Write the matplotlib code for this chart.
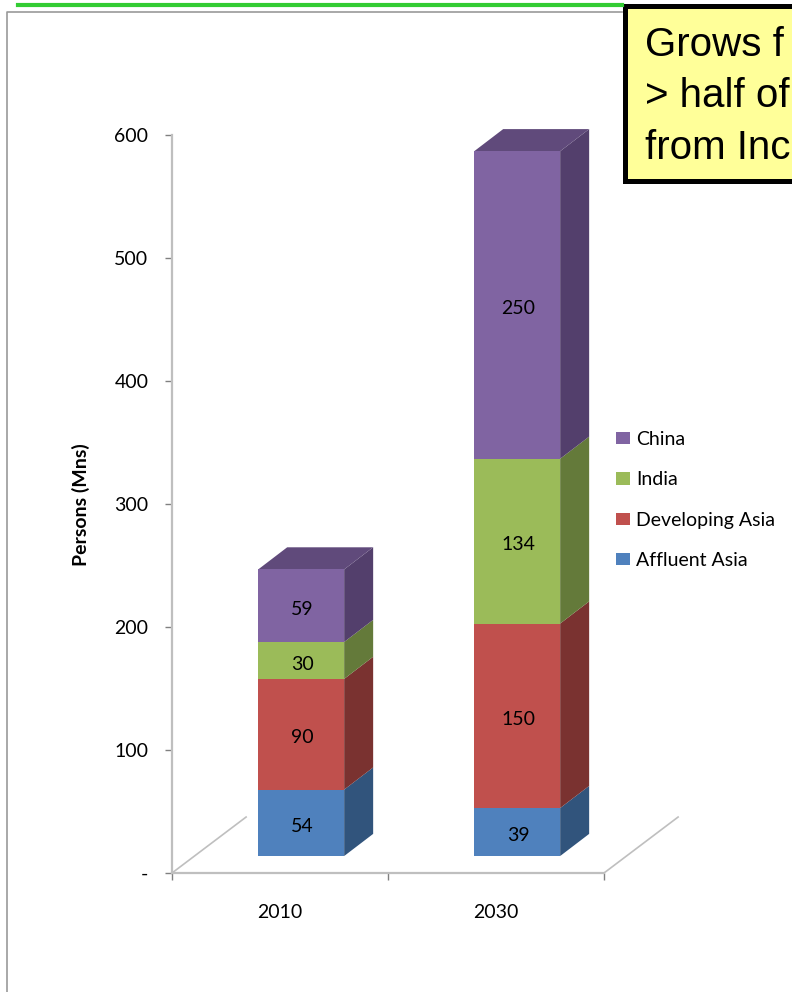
import matplotlib
matplotlib.use('Agg')
import matplotlib.pyplot as plt
from matplotlib.lines import Line2D
from matplotlib.patches import Patch, Polygon, Rectangle

plt.rcParams['font.family'] = ['Lato', 'DejaVu Sans']

years = ['2010', '2030']
series_names = ['Affluent Asia', 'Developing Asia', 'India', 'China']
affluent = [54, 39]
developing = [90, 150]
india = [30, 134]
china = [59, 250]
yticks = [0, 100, 200, 300, 400, 500, 600]
yticklabels = ['-', '100', '200', '300', '400', '500', '600']
callout_lines = ['Grows f', '> half of', 'from Inc']

front_cols = ['#4F81BD', '#C0504D', '#9BBB59', '#8064A2']
side_cols = ['#31547C', '#7A3230', '#647A3A', '#533F6C']
top_col = '#604A7B'
axis_col = '#BFBFBF'

W, H = 792, 992
fig = plt.figure(figsize=(W / 100, H / 100), dpi=100)
ax = fig.add_axes([172 / W, 1 - 873 / H, 432 / W, 738 / H])
ax.set_xlim(-0.5, 1.5)
ax.set_ylim(0, 600)

# fake 3d: bars sit forward of the floor edge, depth goes up and to the right
bar_w = 0.398
shift_x = 0.098
base = 13.8
depth_x = 29 / 216
depth_y = 18

for i in range(len(years)):
    x = i + shift_x
    left = x - bar_w / 2
    right = x + bar_w / 2
    bottom = base
    for vals, fc, sc in zip([affluent, developing, india, china], front_cols, side_cols):
        v = vals[i]
        ax.bar(x, v, bar_w, bottom=bottom, color=fc, zorder=3)
        ax.add_patch(Polygon([(right, bottom), (right, bottom + v),
                              (right + depth_x, bottom + v + depth_y),
                              (right + depth_x, bottom + depth_y)],
                             closed=True, fc=sc, ec='none', zorder=2, clip_on=False))
        ax.text(x + 0.005, bottom + v / 2 - 3, str(v), ha='center', va='center',
                fontsize=14, color='black', zorder=4)
        bottom += v
    ax.add_patch(Polygon([(left, bottom), (right, bottom),
                          (right + depth_x, bottom + depth_y),
                          (left + depth_x, bottom + depth_y)],
                         closed=True, fc=top_col, ec='none', zorder=2, clip_on=False))

# floor and walls
for s in ['top', 'right']:
    ax.spines[s].set_visible(False)
for s in ['left', 'bottom']:
    ax.spines[s].set_color(axis_col)
    ax.spines[s].set_linewidth(1.6)
for x0 in [-0.5, 1.5]:
    ax.plot([x0, x0 + 0.343], [0, 45.5], color=axis_col, lw=1.2, clip_on=False, zorder=1)

ax.set_yticks(yticks)
ax.set_yticklabels(yticklabels, fontsize=14)
ax.tick_params(axis='y', length=5, width=1, color='#808080', pad=12)
ax.set_xticks([-0.5, 0.5, 1.5])
ax.set_xticklabels([])
ax.tick_params(axis='x', length=5, width=1, color='#808080')
ax.set_xticks([0, 1], labels=years, minor=True, fontsize=14)
ax.tick_params(axis='x', which='minor', length=0, pad=22)
fig.text(81 / W, 1 - 505 / H, 'Persons (Mns)', rotation=90, ha='center', va='center',
         fontsize=14, fontweight='bold')

handles = [Patch(fc=c, ec='none') for c in front_cols[::-1]]
ax.legend(handles, series_names[::-1], loc='center left',
          bbox_to_anchor=(616 / W, 1 - 500 / H), bbox_transform=fig.transFigure,
          frameon=False, fontsize=14, handlelength=0.72, handleheight=0.62,
          handletextpad=0.31, labelspacing=1.2, borderpad=0, borderaxespad=0)

# slide furniture around the chart
fig.add_artist(Line2D([18 / W, 622 / W], [1 - 5 / H, 1 - 5 / H], color='#33CC33', lw=3))
fig.add_artist(Line2D([7 / W, 7 / W, 622 / W], [0, 1 - 12 / H, 1 - 12 / H], color='#999999', lw=1.2))
fig.add_artist(Rectangle((624.5 / W, 1 - 181 / H), 200 / W, 175 / H, transform=fig.transFigure,
                         fc='#FFFF99', ec='black', lw=3.6))
for line, py in zip(callout_lines, [45, 96, 148]):
    fig.text(645 / W, 1 - py / H, line, fontsize=29, family='Liberation Sans',
             va='center', ha='left', color='black')

fig.savefig('out.png', dpi=100)
